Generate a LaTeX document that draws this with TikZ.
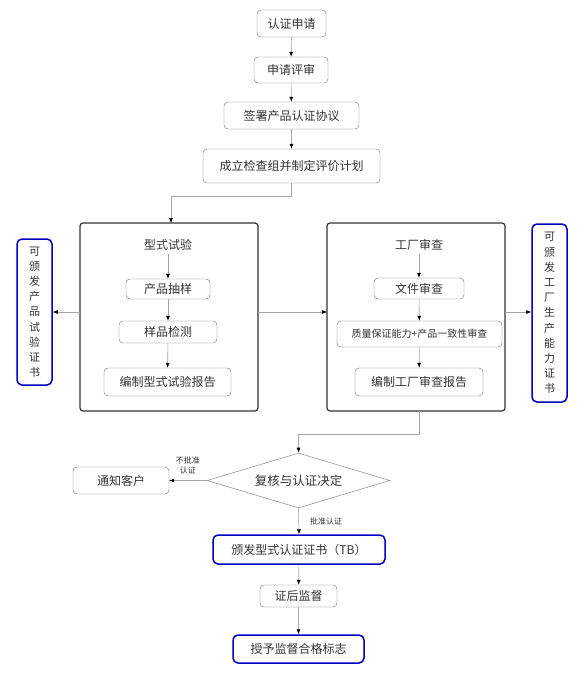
\documentclass[tikz,border=0pt]{standalone}
\usepackage{fontspec}
\setmainfont{Noto Sans CJK SC}
\usetikzlibrary{arrows.meta, shapes.geometric, positioning}

\tikzset{
  box/.style={draw=gray!85!black, rounded corners=4pt, fill=white, inner sep=0pt, text=black!80, font=\fontsize{12}{14}\selectfont},
  bluebox/.style={box, draw=blue!75!black, line width=1.5pt, rounded corners=5pt},
  bigbox/.style={draw=black!80, line width=1.2pt, rounded corners=3pt},
  vbox/.style={bluebox, align=center, font=\fontsize{11}{15.2}\selectfont},
  flow/.style={draw=gray!70, line width=0.6pt, -{Latex[color=black,length=5pt,width=4pt]}},
  tag/.style={font=\fontsize{8}{10}\selectfont, text=black!80, align=center, inner sep=1pt}
}

\begin{document}
\begin{tikzpicture}[x=1pt,y=-1pt]

            \useasboundingbox (0,0) rectangle (586,675);

            % Các bước đầu
            \node[box, minimum width=69, minimum height=27] (apply) at (291.5,23.5) {认证申请};
            \node[box, minimum width=74, minimum height=26] (review) at (291,70) {申请评审};
            \node[box, minimum width=135, minimum height=27] (sign) at (291.5,115.5) {签署产品认证协议};
            \node[box, minimum width=177, minimum height=34] (plan) at (291.5,166) {成立检查组并制定评价计划};

            % Hai khung lớn
            \draw[bigbox] (80,223) rectangle (258,411);
            \draw[bigbox] (327,223) rectangle (505,411);
            \coordinate (typeW) at (80,312);
            \coordinate (typeE) at (258,312);
            \coordinate (typeN) at (171,223);
            \coordinate (factW) at (327,312);
            \coordinate (factE) at (505,312);
            \coordinate (factS) at (419,411);

            % Khung trái: type test
            \node[text=black!80, font=\fontsize{12}{14}\selectfont] (titleT) at (168,245) {型式试验};
            \node[box, minimum width=84, minimum height=20] (sample) at (168,289) {产品抽样};
            \node[box, minimum width=98, minimum height=22] (test) at (168,332) {样品检测};
            \node[box, minimum width=127, minimum height=28] (treport) at (167.5,382) {编制型式试验报告};

            % Khung phải: factory audit
            \node[text=black!80, font=\fontsize{12}{14}\selectfont] (titleF) at (419,245) {工厂审查};
            \node[box, minimum width=90, minimum height=21] (doc) at (419,288.5) {文件审查};
            \node[box, minimum width=165, minimum height=26, font=\fontsize{10}{12}\selectfont] (quality) at (419.5,334) {质量保证能力+产品一致性审查};
            \node[box, minimum width=128, minimum height=28] (freport) at (419,382) {编制工厂审查报告};

            % Chứng chỉ hai bên
            \node[vbox, minimum width=35, minimum height=146] (certL) at (34.5,312) {可\\颁\\发\\产\\品\\试\\验\\证\\书};
            \node[vbox, minimum width=35, minimum height=178] (certR) at (549.5,313) {可\\颁\\发\\工\\厂\\生\\产\\能\\力\\证\\书};

            % Quyết định và các bước cuối
            \node[diamond, draw=gray!80, line width=0.6pt, aspect=3.3, minimum width=183, minimum height=55, inner sep=0pt, text=black!80, font=\fontsize{12.5}{14}\selectfont] (decide) at (298.5,480.5) {复核与认证决定};
            \node[box, minimum width=96, minimum height=27] (notify) at (121,480.5) {通知客户};
            \node[bluebox, minimum width=172, minimum height=29] (issue) at (299,549.5) {颁发型式认证证书（TB）};
            \node[box, minimum width=77, minimum height=22] (supervise) at (298.5,596) {证后监督};
            \node[bluebox, minimum width=131, minimum height=28] (mark) at (298.5,649) {授予监督合格标志};

            % Vẽ mũi tên
            \draw[flow] (apply) -- (review);
            \draw[flow] (review) -- (sign);
            \draw[flow] (sign) -- (plan);
            \coordinate (split) at (291.5,196);
            \draw[flow] (plan.south) -- (split) -| (typeN);
            \draw[flow] (titleT) -- (sample);
            \draw[flow] (sample) -- (test);
            \draw[flow] (test) -- (treport);
            \draw[flow] (titleF) -- (doc);
            \draw[flow] (doc) -- (quality);
            \draw[flow] (quality) -- (freport);
            \draw[flow] (typeW) -- (certL.east |- typeW);
            \draw[flow] (typeE) -- (factW);
            \draw[flow] (factE) -- (certR.west |- factE);
            \coordinate (bend) at (298.5,434);
            \draw[flow] (factS) |- (bend) -- (decide.north);
            \draw[flow] (decide.west) -- (notify.east) node[tag, midway, above=5pt] {不批准\\认证};
            \draw[flow] (decide.south) -- (issue.north) node[tag, midway, right=10pt] {批准认证};
            \draw[flow] (issue) -- (supervise);
            \draw[flow] (supervise) -- (mark);

\end{tikzpicture}
\end{document}
